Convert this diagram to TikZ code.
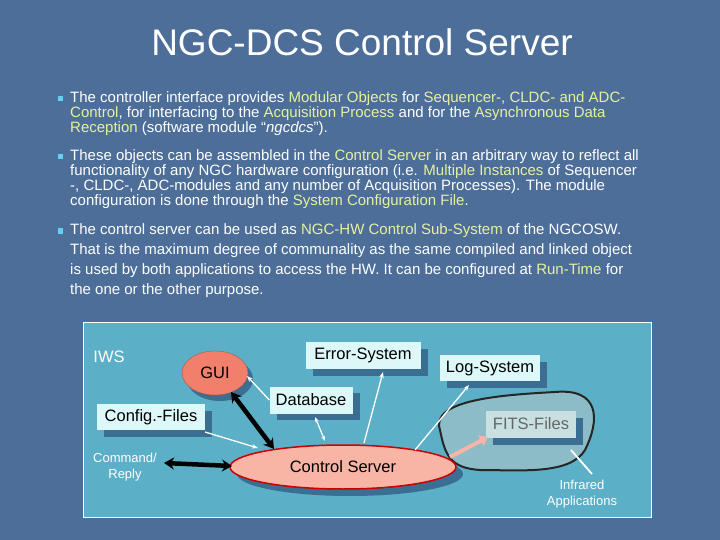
\documentclass[tikz,border=0pt]{standalone}
\usepackage{fontspec}
\setmainfont{Liberation Sans}
\usetikzlibrary{arrows.meta}
\definecolor{bg}{HTML}{4C6E99}
\definecolor{hl}{HTML}{E6F0A0}
\definecolor{panel}{HTML}{5BAFC6}
\definecolor{boxc}{HTML}{DDF8F8}
\definecolor{shad}{HTML}{3A6E92}
\definecolor{gui}{HTML}{F0806C}
\definecolor{csf}{HTML}{F8B4A4}
\definecolor{blob}{HTML}{8CBCC8}
\definecolor{fits}{HTML}{C8E0E2}
\tikzset{
 txt/.style={anchor=west,inner sep=0,text=white,font=\fontsize{15}{17}\selectfont},
 bul/.style={fill=cyan!60!white,minimum size=5pt,inner sep=0},
 bx/.style={fill=boxc,font=\fontsize{16.5}{18}\selectfont},
 sh/.style={fill=shad},
 wa/.style={white,line width=1.3pt,-{Stealth[length=6pt]}},
 ba/.style={black,line width=4.5pt,{Stealth[length=10pt,width=12pt]}-{Stealth[length=10pt,width=12pt]}}
}
\newcommand{\h}[1]{\textcolor{hl}{#1}}
\begin{document}
\begin{tikzpicture}[x=1pt,y=-1pt]
\fill[bg] (0,0) rectangle (720,540);
\useasboundingbox (0,0) rectangle (720,540);
\node[text=white,font=\fontsize{37}{40}\selectfont] (title) at (362,42) {NGC-DCS Control Server};
\node[bul] (b1) at (60,99) {};
\node[bul] (b2) at (60,157) {};
\node[bul] (b3) at (60,231) {};
\node[txt] (t1a) at (70,99) {The controller interface provides \h{Modular Objects} for \h{Sequencer-, CLDC- and ADC-}};
\node[txt] (t1b) at (70,114) {\h{Control}, for interfacing to the \h{Acquisition Process} and for the \h{Asynchronous Data}};
\node[txt] (t1c) at (70,129) {\h{Reception} (software module ``\textit{ngcdcs}'').};
\node[txt] (t2a) at (70,157) {These objects can be assembled in the \h{Control Server} in an arbitrary way to reflect all};
\node[txt] (t2b) at (70,172) {functionality of any NGC hardware configuration (i.e. \h{Multiple Instances} of Sequencer};
\node[txt] (t2c) at (70,187) {-, CLDC-, ADC-modules and any number of Acquisition Processes). The module};
\node[txt] (t2d) at (70,202) {configuration is done through the \h{System Configuration File}.};
\node[txt] (t3a) at (70,231) {The control server can be used as \h{NGC-HW Control Sub-System} of the NGCOSW.};
\node[txt] (t3b) at (70,251) {That is the maximum degree of communality as the same compiled and linked object};
\node[txt] (t3c) at (70,271) {is used by both applications to access the HW. It can be configured at \h{Run-Time} for};
\node[txt] (t3d) at (70,291) {the one or the other purpose.};
% panel
\draw[white,line width=1pt,fill=panel] (83,322) rectangle (651,517);
\node[text=white,font=\fontsize{16.5}{18}\selectfont] (iws) at (109,357) {IWS};
% blob
\draw[black!85,line width=2pt,fill=blob] (440,430) .. controls (430,400) and (500,395) .. (555,392)
  .. controls (600,388) and (600,420) .. (585,450) .. controls (570,475) and (520,470) .. (480,470)
  .. controls (450,468) and (445,455) .. (440,430) -- cycle;
\node[sh,minimum width=90pt,minimum height=27pt] at (538,431) {};
\node[fill=fits,text=black!60,font=\fontsize{16.5}{18}\selectfont,minimum width=90pt,minimum height=27pt] (fits) at (531,424) {FITS-Files};
% ellipses
\fill[shad] (220,379) ellipse (33 and 22);
\draw[gui!70!black,fill=gui] (215,373) ellipse (33 and 22);
\node[font=\fontsize{16.5}{18}\selectfont] (gui) at (215,373) {GUI};
\fill[shad] (350,474) ellipse (113 and 22);
\draw[red!80!black,line width=1.5pt,fill=csf] (343,467) ellipse (113 and 22);
\node[font=\fontsize{16.5}{18}\selectfont] (cs) at (343,467) {Control Server};
% boxes
\node[sh,minimum width=115pt,minimum height=27pt] at (370,362) {};
\node[bx,minimum width=115pt,minimum height=27pt] (err) at (363,355) {Error-System};
\node[sh,minimum width=100pt,minimum height=26pt] at (497,375) {};
\node[bx,minimum width=100pt,minimum height=26pt] (log) at (490,368) {Log-System};
\node[sh,minimum width=83pt,minimum height=27pt] at (318,406) {};
\node[bx,minimum width=83pt,minimum height=27pt] (db) at (311,400) {Database};
\node[sh,minimum width=108pt,minimum height=26pt] at (158,424) {};
\node[bx,minimum width=108pt,minimum height=26pt] (cfg) at (151,417) {Config.-Files};
\node[text=white,font=\fontsize{13}{16}\selectfont,align=center] (cmd) at (125,467) {Command/\\Reply};
\node[text=white,font=\fontsize{13}{16}\selectfont,align=center] (ir) at (582,494) {Infrared\\Applications};
% connectors
\coordinate (c1) at (274,449); \coordinate (g1) at (231,392);
\draw[ba] (g1) -- (c1);
\coordinate (cl) at (232,466); \coordinate (ml) at (164,463);
\draw[ba] (ml) -- (cl);
\coordinate (cf1) at (205,432); \coordinate (cf2) at (258,448);
\draw[wa] (cf1) -- (cf2);
\draw[wa] (db.west) -- (247,376);
\draw[white,line width=1.2pt,{Stealth[length=5pt]}-{Stealth[length=5pt]}] (315,417) -- (325,441);
\draw[wa] (364,443) -- (383,372);
\draw[wa] (415,450) -- (469,385);
\draw[csf,line width=4pt,-{Triangle[length=8pt,width=11pt]}] (450,457) -- (488,437);
\draw[white,line width=1.8pt] (571,450) -- (592,474);
\end{tikzpicture}
\end{document}
